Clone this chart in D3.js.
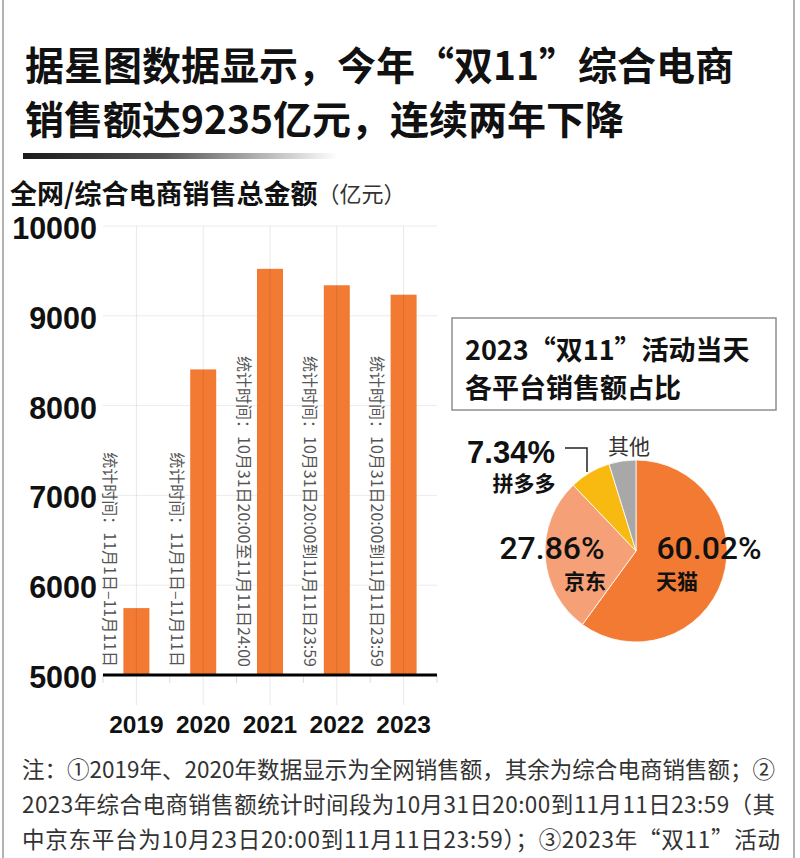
<!DOCTYPE html>
<html><head><meta charset="utf-8">
<script src="https://cdn.jsdelivr.net/npm/d3@7"></script>
<style>
html,body{margin:0;padding:0;background:#fff;}
svg{display:block;}
</style></head>
<body>
<svg id="c" width="800" height="858"></svg>
<script>
// ---- data ----
const titleLines = ["据星图数据显示，今年“双11”综合电商", "销售额达9235亿元，连续两年下降"];
const subtitle = "全网/综合电商销售总金额";
const subtitleUnit = "（亿元）";
const years = ["2019", "2020", "2021", "2022", "2023"];
const sales = [5745, 8403, 9523, 9340, 9235];
const periods = [
  "统计时间：11月1日–11月11日",
  "统计时间：11月1日–11月11日",
  "统计时间：10月31日20:00至11月11日24:00",
  "统计时间：10月31日20:00到11月11日23:59",
  "统计时间：10月31日20:00到11月11日23:59"
];
const yTicks = [5000, 6000, 7000, 8000, 9000, 10000];
const pieTitle = ["2023“双11”活动当天", "各平台销售额占比"];
const platforms = ["天猫", "京东", "拼多多", "其他"];
const shares = [60.02, 27.86, 7.34, 4.78];
const shareLabels = ["60.02%", "27.86%", "7.34%", ""];
const notes = [
  "注：①2019年、2020年数据显示为全网销售额，其余为综合电商销售额；②",
  "2023年综合电商销售额统计时间段为10月31日20:00到11月11日23:59（其",
  "中京东平台为10月23日20:00到11月11日23:59）；③2023年“双11”活动"
];

// ---- drawing ----
const svg = d3.select("#c");
const CJK = "'Noto Sans CJK SC','Noto Sans',sans-serif";
const LAT = "'Liberation Sans',Arial,'Noto Sans CJK SC',sans-serif";
const orange = "#F27A33";

svg.append("rect").attr("width", 800).attr("height", 858).attr("fill", "#fff");
// frame side lines
svg.append("line").attr("x1", 3).attr("x2", 3).attr("y1", 0).attr("y2", 858).attr("stroke", "#9a9a9a").attr("stroke-width", 1.5);
svg.append("line").attr("x1", 794).attr("x2", 794).attr("y1", 0).attr("y2", 858).attr("stroke", "#9a9a9a").attr("stroke-width", 1.5);

// title
svg.append("g").selectAll("text").data(titleLines).join("text")
  .attr("x", 25).attr("y", (d, i) => 63 + i * 54)
  .attr("dominant-baseline", "central")
  .attr("font-family", CJK).attr("font-weight", 700).attr("font-size", 39)
  .attr("fill", "#111").text(d => d);

// gradient rule
const defs = svg.append("defs");
const lg = defs.append("linearGradient").attr("id", "rule").attr("x1", "0%").attr("x2", "100%");
lg.append("stop").attr("offset", "0%").attr("stop-color", "#1a1a1a");
lg.append("stop").attr("offset", "45%").attr("stop-color", "#555");
lg.append("stop").attr("offset", "100%").attr("stop-color", "#fff");
svg.append("rect").attr("x", 23).attr("y", 153).attr("width", 315).attr("height", 6).attr("fill", "url(#rule)");

// subtitle
const st = svg.append("text").attr("x", 10).attr("y", 192).attr("dominant-baseline", "central")
  .attr("font-family", CJK).attr("fill", "#111");
st.append("tspan").attr("font-weight", 700).attr("font-size", 27).text(subtitle);
st.append("tspan").attr("font-weight", 400).attr("font-size", 22).attr("fill", "#333").text(subtitleUnit);

// bar chart
const x = d3.scaleBand().domain(years).range([103, 437]).padding(0);
const y = d3.scaleLinear().domain([5000, 10000]).range([675, 226]);
const bw = 26;

const g = svg.append("g");
// horizontal gridlines
g.selectAll("line.hg").data(yTicks.slice(1)).join("line").attr("class", "hg")
  .attr("x1", 103).attr("x2", 437).attr("y1", d => y(d)).attr("y2", d => y(d))
  .attr("stroke", "#ececec").attr("stroke-width", 1);
// boundary ticks below axis
const bounds = years.map(d => x(d)).concat([x.range()[1]]);
g.selectAll("line.bt").data(bounds).join("line").attr("class", "bt")
  .attr("x1", d => d).attr("x2", d => d).attr("y1", y(5000)).attr("y2", y(5000) + 8)
  .attr("stroke", "#dcdcdc").attr("stroke-width", 1);
// bars
g.selectAll("rect.bar").data(years).join("rect").attr("class", "bar")
  .attr("x", d => x(d) + x.bandwidth() / 2 - bw / 2)
  .attr("y", (d, i) => y(sales[i]))
  .attr("width", bw)
  .attr("height", (d, i) => y(5000) - y(sales[i]))
  .attr("fill", orange);
// vertical gridlines at band centers (over bars, translucent)
g.selectAll("line.vg").data(years).join("line").attr("class", "vg")
  .attr("x1", d => x(d) + x.bandwidth() / 2).attr("x2", d => x(d) + x.bandwidth() / 2)
  .attr("y1", y(10000)).attr("y2", y(5000) + 30)
  .attr("stroke", "#000").attr("stroke-opacity", 0.09).attr("stroke-width", 1);
// axis line
g.append("line").attr("x1", 103).attr("x2", 437).attr("y1", y(5000)).attr("y2", y(5000))
  .attr("stroke", "#000").attr("stroke-width", 3);
// y tick labels
g.selectAll("text.yl").data(yTicks).join("text").attr("class", "yl")
  .attr("x", 97).attr("y", d => y(d) + 2)
  .attr("text-anchor", "end").attr("dominant-baseline", "central")
  .attr("font-family", LAT).attr("font-weight", 700).attr("font-size", 30.5).attr("fill", "#111")
  .text(d => d);
// year labels
g.selectAll("text.xl").data(years).join("text").attr("class", "xl")
  .attr("x", d => x(d) + x.bandwidth() / 2).attr("y", 724)
  .attr("text-anchor", "middle").attr("dominant-baseline", "central")
  .attr("font-family", LAT).attr("font-weight", 700).attr("font-size", 24.5).attr("fill", "#111")
  .text(d => d);
// rotated period labels
g.selectAll("text.pl").data(years).join("text").attr("class", "pl")
  .attr("transform", d => `translate(${x(d) + 8},667) rotate(90)`)
  .attr("text-anchor", "end").attr("dominant-baseline", "central")
  .attr("font-family", CJK).attr("font-weight", 400).attr("font-size", 16).attr("fill", "#555")
  .text((d, i) => periods[i]);

// pie title box
svg.append("rect").attr("x", 452).attr("y", 318).attr("width", 324).attr("height", 92)
  .attr("fill", "none").attr("stroke", "#8f8f8f").attr("stroke-width", 1.5);
svg.append("g").selectAll("text").data(pieTitle).join("text")
  .attr("x", 465).attr("y", (d, i) => 348 + i * 38).attr("dominant-baseline", "central")
  .attr("font-family", CJK).attr("font-weight", 700).attr("font-size", 27).attr("fill", "#111")
  .text(d => d);

// pie
const pieColors = ["#F27A33", "#F6A077", "#F8BA10", "#A8A8A8"];
const cx = 636, cy = 551, r = 91;
const pie = d3.pie().sort(null).value(d => d)(shares);
const arc = d3.arc().innerRadius(0).outerRadius(r);
const pg = svg.append("g").attr("transform", `translate(${cx},${cy})`);
pg.selectAll("path").data(pie).join("path").attr("d", arc)
  .attr("fill", (d, i) => pieColors[i]).attr("stroke", "#fff").attr("stroke-width", 0.8);

// pie labels
const pieLab = [
  {pct: [709, 548], name: [677, 580], pw: 500, ff: "Roboto,'Liberation Sans',sans-serif", fs: 32},
  {pct: [552, 548], name: [585, 580], pw: 500, ff: "Roboto,'Liberation Sans',sans-serif", fs: 32},
  {pct: [511, 452], name: [524, 482], pw: 700, ff: LAT, fs: 31},
];
pieLab.forEach((p, i) => {
  svg.append("text").attr("x", p.pct[0]).attr("y", p.pct[1]).attr("text-anchor", "middle")
    .attr("dominant-baseline", "central").attr("font-family", p.ff).attr("font-weight", p.pw)
    .attr("font-size", p.fs).attr("fill", "#111").text(shareLabels[i]);
  svg.append("text").attr("x", p.name[0]).attr("y", p.name[1]).attr("text-anchor", "middle")
    .attr("dominant-baseline", "central").attr("font-family", CJK).attr("font-weight", 700)
    .attr("font-size", 21).attr("fill", "#111").text(platforms[i]);
});
svg.append("text").attr("x", 629).attr("y", 445).attr("text-anchor", "middle")
  .attr("dominant-baseline", "central").attr("font-family", CJK).attr("font-weight", 400)
  .attr("font-size", 21).attr("fill", "#333").text(platforms[3]);
// leader for 拼多多
svg.append("path").attr("d", "M565,448H587V472").attr("fill", "none").attr("stroke", "#222").attr("stroke-width", 1.5);

// notes
const noteLens = [753, 753, 758];
svg.append("g").selectAll("text").data(notes).join("text")
  .attr("x", 22).attr("y", (d, i) => 768 + i * 35).attr("dominant-baseline", "central")
  .attr("font-family", CJK).attr("font-weight", 400).attr("font-size", 22.5).attr("fill", "#333")
  .attr("textLength", (d, i) => noteLens[i]).attr("lengthAdjust", "spacing")
  .text(d => d);
</script>
</body></html>
